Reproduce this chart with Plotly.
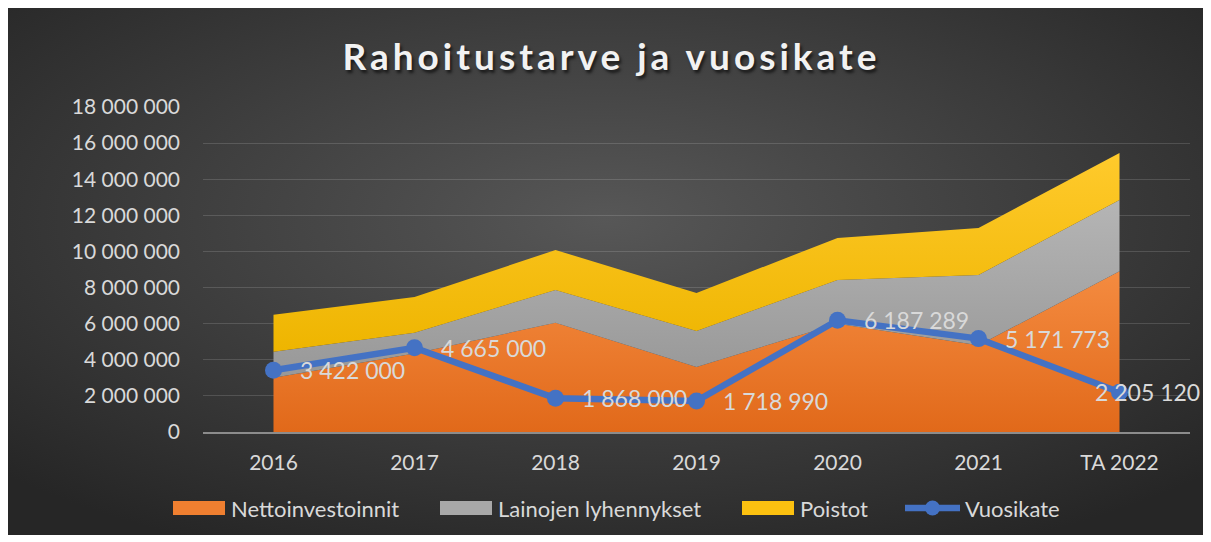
import base64
import plotly.graph_objects as go

# vuodet ja arvot (luettu kuvasta)
vuodet = ["2016", "2017", "2018", "2019", "2020", "2021", "TA 2022"]
nettoinvestoinnit = [3000000, 4350000, 6050000, 3600000, 6000000, 4800000, 8900000]
lainojen_lyhennykset = [1450000, 1150000, 1820000, 2000000, 2420000, 3900000, 3950000]
poistot = [2050000, 1980000, 2210000, 2100000, 2330000, 2600000, 2600000]
vuosikate = [3422000, 4665000, 1868000, 1718990, 6187289, 5171773, 2205120]

y_ticks = list(range(0, 18000001, 2000000))

W, H = 1195, 527
M = dict(l=195, r=13, t=99, b=103)
pw = W - M['l'] - M['r']
ph = H - M['t'] - M['b']

txt = '#d9d9d9'
fnt = 'Lato'
blue = '#4472c4'


def px(x):
    return (x - M['l']) / pw


def py(y):
    return (H - M['b'] - y) / ph


# taustan radiaalinen liukuvari svg-kuvana
svg = ('<svg xmlns="http://www.w3.org/2000/svg" width="%d" height="%d">'
       '<defs><radialGradient id="g" cx="50%%" cy="40%%" r="70%%">'
       '<stop offset="0" stop-color="#575757"/><stop offset="1" stop-color="#262626"/>'
       '</radialGradient></defs><rect width="100%%" height="100%%" fill="url(#g)"/></svg>') % (W, H)
bg_src = 'data:image/svg+xml;base64,' + base64.b64encode(svg.encode()).decode()

fig = go.Figure()

areas = [
    ("Nettoinvestoinnit", nettoinvestoinnit, '#e1691a', '#f48b40', '#ef7f30'),
    ("Lainojen lyhennykset", lainojen_lyhennykset, '#989898', '#b5b5b5', '#a8a8a8'),
    ("Poistot", poistot, '#eeb500', '#ffca2c', '#fcc110'),
]
for name, vals, c0, c1, _ in areas:
    fig.add_trace(go.Scatter(
        x=vuodet, y=vals, name=name, stackgroup='one', mode='lines',
        line=dict(width=0, color=c1),
        fillgradient=dict(type='vertical', colorscale=[[0, c0], [1, c1]]),
        hoverinfo='skip', showlegend=False))

fig.add_trace(go.Scatter(
    x=vuodet, y=vuosikate, name="Vuosikate", mode='lines+markers',
    line=dict(color=blue, width=6.5),
    marker=dict(size=17, color=blue),
    cliponaxis=False, showlegend=False))

# arvolaatat (x indeksinä, koska "2016" tulkittaisiin numeroksi)
for i, v in enumerate(vuosikate):
    lbl = '{:,}'.format(v).replace(',', ' ')
    fig.add_annotation(x=i, y=v, text=lbl, showarrow=False,
                       xanchor='left', yanchor='middle',
                       xshift=-27 if i == len(vuosikate) - 1 else 24,
                       font=dict(family=fnt, size=23, color=txt))

# selite käsin, jotta laatikot ja välit vastaavat alkuperäistä
leg_y = 500
leg_x = [165, 432, 734, 897]
for (name, _, _, _, col), x0 in zip(areas, leg_x[:3]):
    fig.add_shape(type='rect', xref='paper', yref='paper',
                  x0=px(x0), x1=px(x0 + 52), y0=py(leg_y - 7), y1=py(leg_y + 7),
                  fillcolor=col, line_width=0)
    fig.add_annotation(xref='paper', yref='paper', x=px(x0 + 56), y=py(leg_y),
                       text=name, showarrow=False, xanchor='left', yanchor='middle',
                       font=dict(family=fnt, size=22, color=txt))
x0 = leg_x[3]
fig.add_shape(type='line', xref='paper', yref='paper',
              x0=px(x0), x1=px(x0 + 55), y0=py(leg_y), y1=py(leg_y),
              line=dict(color=blue, width=6.5))
fig.add_shape(type='circle', xref='paper', yref='paper',
              x0=px(x0 + 20), x1=px(x0 + 35), y0=py(leg_y - 7.5), y1=py(leg_y + 7.5),
              fillcolor=blue, line_width=0)
fig.add_annotation(xref='paper', yref='paper', x=px(x0 + 58), y=py(leg_y),
                   text="Vuosikate", showarrow=False, xanchor='left', yanchor='middle',
                   font=dict(family=fnt, size=22, color=txt))

fig.add_layout_image(dict(
    source=bg_src, xref='paper', yref='paper',
    x=-M['l'] / pw, y=1 + M['t'] / ph, sizex=W / pw, sizey=H / ph,
    xanchor='left', yanchor='top', sizing='stretch', layer='below'))

fig.update_layout(
    width=W, height=H, margin=M,
    paper_bgcolor='#333333', plot_bgcolor='rgba(0,0,0,0)',
    separators=', ',
    title=dict(text='<span style="letter-spacing:4px">Rahoitustarve ja vuosikate</span>',
               x=0.505, xanchor='center', y=1 - 49 / H, yanchor='middle',
               font=dict(family=fnt, size=37, weight='bold', color='#f2f2f2',
                         shadow='2px 3px 3px rgba(0,0,0,0.6)')),
    font=dict(family=fnt, size=21, color=txt),
    showlegend=False,
    hovermode=False,
)
fig.update_xaxes(type='category', range=[-0.5, 6.5], showgrid=False,
                 showline=True, linecolor='#8c8c8c', linewidth=1.5,
                 ticks='', ticklabelstandoff=11, tickfont=dict(size=21, color=txt))
fig.update_yaxes(range=[0, 18000000], tickvals=y_ticks, tickformat=',d',
                 showgrid=True, gridcolor='rgba(255,255,255,0.14)', gridwidth=1.3,
                 zeroline=False, showline=False, ticks='', ticklabelstandoff=22,
                 tickfont=dict(size=21, color=txt))

fig.write_html("out.html")
